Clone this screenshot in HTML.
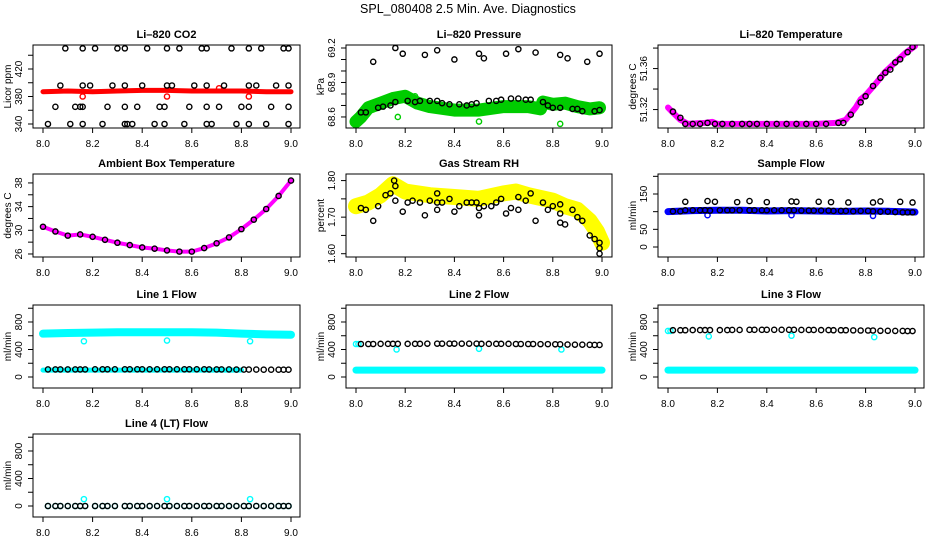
<!DOCTYPE html>
<html><head><meta charset="utf-8"><style>
html,body{margin:0;padding:0;background:#fff}
svg{display:block;font-family:"Liberation Sans",sans-serif}
</style></head><body>
<svg id="c" width="936" height="540" viewBox="0 0 936 540">
<text x="468" y="13" text-anchor="middle" font-size="12.5">SPL_080408  2.5 Min. Ave. Diagnostics</text>
</svg>
<script>
// ---- data ----
const xTicks = [8.0, 8.2, 8.4, 8.6, 8.8, 9.0];
const xTickLabels = ["8.0", "8.2", "8.4", "8.6", "8.8", "9.0"];
const flowT = [8.02,8.05,8.07,8.10,8.13,8.15,8.17,8.21,8.24,8.26,8.29,8.33,8.35,8.38,8.40,8.43,8.46,8.49,8.51,8.54,8.57,8.59,8.62,8.65,8.67,8.70,8.72,8.75,8.78,8.81,8.83,8.86,8.89,8.92,8.95,8.97,8.99];
const tenthT = [8.0,8.1,8.2,8.3,8.4,8.5,8.6,8.7,8.8,8.9,9.0];

// CO2
const co2BandY = [387,388,387,388,389,389,388,388,388,387,387];
const co2TopT = [8.09,8.16,8.21,8.30,8.33,8.42,8.50,8.55,8.64,8.66,8.76,8.83,8.88,8.97,8.99];
const co2TopV = [450,450,450,450,450,450,450,450,450,450,450,450,450,450,450];
const co2HiT = [8.07,8.16,8.19,8.28,8.33,8.40,8.50,8.52,8.61,8.66,8.73,8.83,8.86,8.94,8.99];
const co2HiV = [396,396,396,396,396,396,396,396,396,396,396,396,396,396,396];
const co2MidT = [8.05,8.13,8.15,8.16,8.26,8.33,8.38,8.47,8.49,8.59,8.66,8.71,8.80,8.83,8.92,8.99];
const co2MidV = [365,365,365,365,365,365,365,365,365,365,365,365,365,365,365,365];
const co2LoT = [8.02,8.11,8.16,8.24,8.33,8.34,8.36,8.45,8.49,8.57,8.66,8.68,8.78,8.83,8.90,8.99];
const co2LoV = [340,340,340,340,340,340,340,340,340,340,340,340,340,340,340,340];
const co2OutT = [8.16,8.50,8.71,8.83];
const co2OutV = [380,380,392,380];

// Pressure
const presBandT = [8.0,8.02,8.05,8.1,8.15,8.2,8.25,8.3,8.4,8.5,8.6,8.7,8.75,8.76,8.8,8.85,8.9,8.95,8.99];
const presBandV = [68.56,68.60,68.68,68.72,68.76,68.78,68.72,68.69,68.66,68.66,68.69,68.69,68.67,68.73,68.71,68.72,68.69,68.67,68.68];
const presLoT = [8.02,8.04,8.09,8.11,8.14,8.16,8.21,8.24,8.26,8.30,8.33,8.35,8.38,8.42,8.45,8.47,8.49,8.54,8.57,8.59,8.63,8.66,8.69,8.71,8.76,8.78,8.80,8.83,8.88,8.90,8.92,8.97,8.99];
const presLoV = [68.64,68.64,68.68,68.69,68.70,68.73,68.74,68.73,68.74,68.74,68.74,68.72,68.71,68.71,68.70,68.71,68.72,68.74,68.74,68.75,68.76,68.76,68.75,68.75,68.73,68.70,68.68,68.68,68.67,68.67,68.65,68.65,68.66];
const presHiT = [8.07,8.16,8.19,8.28,8.33,8.40,8.50,8.52,8.61,8.66,8.73,8.83,8.86,8.94,8.99];
const presHiV = [69.08,69.20,69.15,69.14,69.18,69.10,69.15,69.11,69.15,69.19,69.16,69.14,69.11,69.08,69.15];
const presOutT = [8.17,8.24,8.50,8.83];
const presOutV = [68.60,68.78,68.56,68.54];

// Li-820 temperature
const tempBandT = [8.0,8.02,8.05,8.08,8.15,8.18,8.2,8.4,8.6,8.68,8.72,8.76,8.78,8.8,8.84,8.88,8.92,8.96,9.0];
const tempBandV = [51.322,51.317,51.310,51.306,51.307,51.308,51.306,51.306,51.306,51.307,51.310,51.322,51.330,51.334,51.345,51.357,51.366,51.375,51.382];
const tempPtT = [8.02,8.05,8.07,8.10,8.13,8.16,8.19,8.22,8.26,8.30,8.33,8.36,8.40,8.44,8.48,8.52,8.56,8.60,8.64,8.69,8.71,8.74,8.78,8.80,8.83,8.86,8.88,8.90,8.92,8.94,8.97,8.99];
const tempPtV = [51.318,51.312,51.306,51.306,51.306,51.307,51.306,51.306,51.306,51.306,51.306,51.306,51.306,51.306,51.306,51.306,51.306,51.306,51.306,51.307,51.307,51.315,51.327,51.333,51.343,51.351,51.356,51.359,51.366,51.369,51.376,51.381];

// Ambient box temperature
const ambT = [8.0,8.05,8.1,8.15,8.2,8.25,8.3,8.35,8.4,8.45,8.5,8.55,8.6,8.65,8.7,8.75,8.8,8.85,8.9,8.95,9.0];
const ambV = [30.6,29.8,29.1,29.3,28.9,28.4,27.9,27.5,27.1,26.9,26.6,26.4,26.4,27.0,27.8,28.8,30.2,31.8,33.6,35.8,38.4];

// RH
const rhBandT = [8.0,8.05,8.1,8.15,8.2,8.3,8.4,8.5,8.6,8.65,8.7,8.8,8.85,8.9,8.95,8.98,9.0];
const rhBandV = [1.73,1.74,1.76,1.79,1.77,1.76,1.755,1.75,1.765,1.77,1.76,1.745,1.73,1.72,1.69,1.66,1.63];
const rhPtT = [8.02,8.04,8.07,8.09,8.12,8.14,8.155,8.16,8.16,8.19,8.21,8.23,8.26,8.28,8.30,8.33,8.33,8.33,8.35,8.38,8.40,8.42,8.45,8.47,8.49,8.50,8.50,8.52,8.55,8.57,8.59,8.61,8.63,8.66,8.66,8.69,8.71,8.73,8.76,8.78,8.80,8.83,8.83,8.83,8.85,8.88,8.90,8.92,8.95,8.97,8.99,8.99,8.99];
const rhPtV = [1.725,1.72,1.69,1.73,1.76,1.765,1.80,1.785,1.745,1.715,1.74,1.745,1.74,1.705,1.745,1.765,1.74,1.72,1.74,1.75,1.715,1.73,1.74,1.74,1.74,1.725,1.705,1.73,1.73,1.74,1.75,1.71,1.725,1.755,1.72,1.745,1.765,1.69,1.74,1.72,1.73,1.735,1.71,1.685,1.68,1.72,1.70,1.69,1.65,1.64,1.63,1.615,1.60];

// Sample flow
const sfBandV = [100,103,104,104,102,103,102,101,102,101,99];
const sfLoV = [101,101,104,104,104,104,103,104,104,104,104,104,104,104,104,104,104,104,104,103,103,103,103,103,102,102,102,101,102,102,101,100,100,99,98,98,98];
const sfHiV = [128,130,128,127,130,127,129,128,128,127,126,126,129,128,126];
const sfOutT = [8.16,8.50,8.83];
const sfOutV = [90,90,88];

// Line flows
const l1BandV = [630,640,645,650,650,650,650,645,630,620,615];
const l1LoBandV = [100,100,100,100,100,100,100,100,100,100,100];
const l1BlackV = [110,110,110,110,110,110,110,112,112,112,112,112,112,112,112,112,112,112,112,112,112,112,112,112,110,110,110,110,108,108,108,108,106,106,106,106,106];
const l1OutV = [520,530,520];
const l2BlackV = [480,480,480,482,482,482,482,482,482,482,485,485,485,485,485,485,485,485,482,482,482,482,482,480,480,480,480,478,478,476,475,472,470,470,468,466,466];
const l2LoBandV = [100,100,100,100,100,100,100,100,100,100,100];
const l2OutV = [400,410,400];
const l3BlackV = [680,680,680,682,682,682,682,682,682,684,684,686,686,686,686,686,686,686,686,684,684,684,682,682,680,680,680,678,676,676,676,672,672,670,670,668,668];
const l3LoBandV = [100,100,100,100,100,100,100,100,100,100,100];
const l3OutV = [590,600,580];
const l4BlackV = [0,0,0,0,0,0,0,0,0,0,0,0,0,0,0,0,0,0,0,0,0,0,0,0,0,0,0,0,0,0,0,0,0,0,0,0,0];
const l4OutV = [100,100,100];
const outT = [8.165,8.50,8.835];

// ---- layout ----
const NS = "http://www.w3.org/2000/svg";
const svg = document.getElementById("c");
const cols = [{b0:33,b1:300,x0:43,x1:291},{b0:346,b1:612,x0:356,x1:602},{b0:658,b1:924,x0:668,x1:915}];
const rows = [45,174,305,434];
const BH = 83;
function mk(tag, attrs, parent){const e=document.createElementNS(NS,tag);for(const k in attrs)e.setAttribute(k,attrs[k]);(parent||svg).appendChild(e);return e;}

function panel(ci, ri, title, ytitle, ylim, yticks, ylabels, name){
  const c=cols[ci], top=rows[ri], bot=top+BH;
  const g=mk("g",{});
  
  
  const sx=v=>c.x0+(v-8)*(c.x1-c.x0);
  const sy=v=>bot-(v-ylim[0])/(ylim[1]-ylim[0])*BH;
  const clip=mk("clipPath",{id:"cl"+name},g);
  mk("rect",{x:c.b0,y:top,width:c.b1-c.b0,height:BH},clip);
  const marks=mk("g",{"clip-path":"url(#cl"+name+")"},g);
  
  
  const box=mk("rect",{x:c.b0,y:top,width:c.b1-c.b0,height:BH,fill:"none",stroke:"#000","stroke-width":1},g);
  
  
  const t=mk("text",{x:(c.b0+c.b1)/2,y:top-7,"text-anchor":"middle","font-size":"11","font-weight":"bold"},g);
  t.textContent=title;
  
  
  // x axis
  const xa=mk("g",{},g);
  
  
  xTicks.forEach((v,i)=>{
    mk("line",{x1:sx(v),x2:sx(v),y1:bot,y2:bot+5,stroke:"#000"},xa);
    const tl=mk("text",{x:sx(v),y:bot+19,"text-anchor":"middle","font-size":"10"},xa);
    tl.textContent=xTickLabels[i];
  });
  // y axis
  const ya=mk("g",{},g);
  
  
  yticks.forEach(v=>{mk("line",{x1:c.b0-5,x2:c.b0,y1:sy(v),y2:sy(v),stroke:"#000"},ya);});
  ylabels.forEach(v=>{
    const tl=mk("text",{transform:`translate(${c.b0-11},${sy(v)}) rotate(-90)`,"text-anchor":"middle","font-size":"10"},ya);
    tl.textContent=String(v);
  });
  const yt=mk("text",{transform:`translate(${c.b0-22},${(top+bot)/2}) rotate(-90)`,"text-anchor":"middle","font-size":"10"},g);
  yt.textContent=ytitle;
  
  
  return {
    band(xs,ys,color,w){
      const p=mk("polyline",{points:xs.map((x,i)=>sx(x)+","+sy(ys[i])).join(" "),fill:"none",stroke:color,"stroke-width":w,"stroke-linejoin":"round","stroke-linecap":"round"},marks);
      
      
    },
    pts(xs,ys,color){
      xs.forEach((x,i)=>{
        const e=mk("circle",{cx:sx(x),cy:sy(ys[i]),r:2.6,fill:"none",stroke:color,"stroke-width":1.4},marks);
        
        
      });
    }
  };
}

let p;
p=panel(0,0,"Li\u2013820 CO2","Licor ppm",[334.2,454.9],[340,360,380,400,420,440],[340,380,420],"co2");
p.band(tenthT,co2BandY,"#ff0000",5);
p.pts(co2OutT,co2OutV,"#ff0000");
p.pts(co2TopT,co2TopV,"#000");p.pts(co2HiT,co2HiV,"#000");p.pts(co2MidT,co2MidV,"#000");p.pts(co2LoT,co2LoV,"#000");

p=panel(1,0,"Li\u2013820 Pressure","kPa",[68.504,69.226],[68.6,68.7,68.8,68.9,69.0,69.1,69.2],["68.6","68.9","69.2"],"pressure");
p.band(presBandT,presBandV,"#00cc00",13);
p.pts(presOutT,presOutV,"#00cc00");
p.pts(presLoT,presLoV,"#000");p.pts(presHiT,presHiV,"#000");

p=panel(2,0,"Li\u2013820 Temperature","degrees C",[51.302,51.383],[51.32,51.34,51.36,51.38],["51.32","51.36"],"li820-temp");
p.band(tempBandT,tempBandV,"#ff00ff",6);
p.pts(tempPtT,tempPtV,"#000");

p=panel(0,1,"Ambient Box Temperature","degrees C",[25.49,39.51],[26,28,30,32,34,36,38],[26,30,34,38],"ambient-temp");
p.band(ambT,ambV,"#ff00ff",4);
p.pts(ambT,ambV,"#000");

p=panel(1,1,"Gas Stream RH","percent",[1.591,1.818],[1.60,1.65,1.70,1.75,1.80],["1.60","1.70","1.80"],"rh");
p.band(rhBandT,rhBandV,"#ffff00",16);
p.pts(rhPtT,rhPtV,"#000");

p=panel(2,1,"Sample Flow","ml/min",[-28.3,206.6],[0,50,100,150,200],[0,50,150],"sample-flow");
p.band(tenthT,sfBandV,"#0000ff",7);
p.pts(sfOutT,sfOutV,"#0000ff");
p.pts(flowT,sfLoV,"#000");p.pts(co2HiT,sfHiV,"#000");

const fl=[-160,1047], ft=[0,200,400,600,800,1000], fll=[0,400,800];
p=panel(0,2,"Line 1 Flow","ml/min",fl,ft,fll,"line1-flow");
p.band(tenthT,l1BandV,"#00ffff",8);
p.band(tenthT.slice(0,9),l1LoBandV.slice(0,9),"#00ffff",5);
p.pts(outT,l1OutV,"#00ffff");
p.pts(flowT,l1BlackV,"#000");

p=panel(1,2,"Line 2 Flow","ml/min",fl,ft,fll,"line2-flow");
p.band(tenthT,l2LoBandV,"#00ffff",7);
p.pts([8.0,8.01],[480,480],"#00ffff");
p.pts(outT,l2OutV,"#00ffff");
p.pts(flowT,l2BlackV,"#000");

p=panel(2,2,"Line 3 Flow","ml/min",fl,ft,fll,"line3-flow");
p.band(tenthT,l3LoBandV,"#00ffff",7);
p.pts([8.0,8.01],[670,670],"#00ffff");
p.pts(outT,l3OutV,"#00ffff");
p.pts(flowT,l3BlackV,"#000");

p=panel(0,3,"Line 4 (LT) Flow","ml/min",fl,ft,fll,"line4-flow");
p.pts(flowT,l4BlackV,"#00ffff");
p.pts(outT,l4OutV,"#00ffff");
p.pts(flowT,l4BlackV,"#000");
</script>
</body></html>
